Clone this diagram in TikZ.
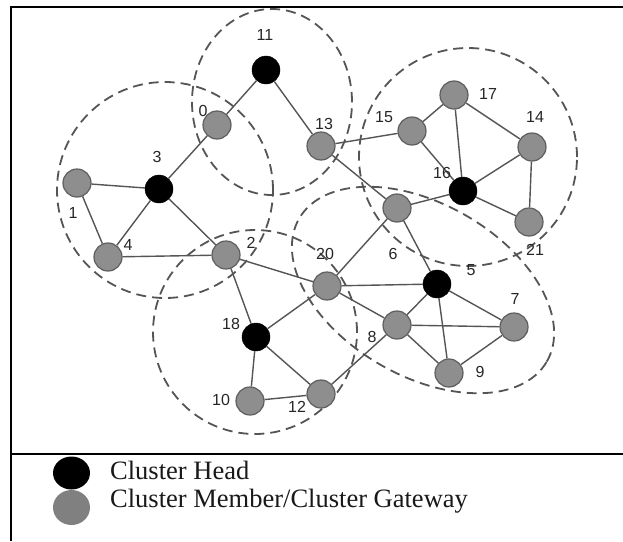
\documentclass[tikz,border=0pt]{standalone}
\usepackage{fontspec}
\setmainfont{Liberation Serif}
\newfontfamily\lblfont{Liberation Sans}
\usetikzlibrary{shapes.geometric}
\definecolor{edgegray}{HTML}{555555}
\definecolor{nodegray}{HTML}{8E8E8E}
\definecolor{nodeborder}{HTML}{5E5E5E}
\definecolor{dashgray}{HTML}{555555}
\definecolor{leggray}{HTML}{808080}
\begin{document}
\begin{tikzpicture}[x=1pt,y=-1pt,
  member/.style={circle,fill=nodegray,draw=nodeborder,line width=1.2pt,minimum size=28pt,inner sep=0pt},
  head/.style={circle,fill=black,draw=black,minimum size=28pt,inner sep=0pt},
  lbl/.style={font=\lblfont\fontsize{16}{16}\selectfont,text=black!85,inner sep=0pt},
  link/.style={draw=edgegray,line width=1.4pt},
  zone/.style={draw=dashgray,line width=1.8pt,dash pattern=on 10pt off 6pt},
  legtext/.style={font=\fontsize{26.5}{26.5}\selectfont,anchor=base west,inner sep=0pt,text=black!90}]
\useasboundingbox (0,0) rectangle (623,541);
\fill[white] (0,0) rectangle (623,541);

% frame
\draw[line width=1.6pt] (623,7) -- (11,7) -- (11,541);
\draw[line width=1.4pt] (11,454) -- (623,454);

% cluster zones
\coordinate (c3) at (165,190);
\coordinate (c11) at (272,102);
\coordinate (c16) at (468,157);
\coordinate (c18) at (255,332);
\coordinate (c5) at (423,290);
\draw[zone] (c3) circle [radius=108pt];
\draw[zone] (c11) ellipse [x radius=80pt, y radius=93pt];
\draw[zone] (c16) circle [radius=109pt];
\draw[zone] (c18) circle [radius=102pt];
\draw[zone,rotate around={-30:(c5)}] (c5) ellipse [x radius=143pt, y radius=86pt];

% node positions
\coordinate (p11) at (266,70);
\coordinate (p0) at (217,125);
\coordinate (p3) at (159,189);
\coordinate (p1) at (77,183);
\coordinate (p4) at (108,257);
\coordinate (p2) at (226,255);
\coordinate (p13) at (321,146);
\coordinate (p15) at (412,131);
\coordinate (p17) at (454,95);
\coordinate (p14) at (532,147);
\coordinate (p16) at (463,191);
\coordinate (p21) at (529,222);
\coordinate (p6) at (397,208);
\coordinate (p20) at (327,286);
\coordinate (p5) at (437,284);
\coordinate (p7) at (514,327);
\coordinate (p8) at (397,325);
\coordinate (p9) at (449,373);
\coordinate (p18) at (256,337);
\coordinate (p10) at (250,401);
\coordinate (p12) at (321,394);

\foreach \n in {0,1,4,2,13,15,17,14,21,6,20,7,8,9,10,12}
  \node[member] (n\n) at (p\n) {};
\foreach \n in {11,3,16,5,18}
  \node[head] (n\n) at (p\n) {};

% links
\foreach \a/\b in {11/0,0/3,11/13,3/1,3/4,3/2,1/4,4/2,2/18,2/20,20/8,18/20,18/10,18/12,10/12,12/8,
  20/5,20/6,13/6,6/5,6/16,13/15,15/17,15/16,17/16,17/14,14/16,14/21,16/21,5/8,5/7,5/9,8/7,8/9,7/9}
  \draw[link] (n\a) -- (n\b);

% labels
\node[lbl] (l11) at (265,35) {11};
\node[lbl] (l0) at (203,111) {0};
\node[lbl] (l3) at (157,157) {3};
\node[lbl] (l1) at (73,213) {1};
\node[lbl] (l4) at (128,245) {4};
\node[lbl] (l2) at (251,243) {2};
\node[lbl] (l13) at (324,124) {13};
\node[lbl] (l15) at (384,117) {15};
\node[lbl] (l17) at (488,94) {17};
\node[lbl] (l14) at (535,117) {14};
\node[lbl] (l16) at (442,173) {16};
\node[lbl] (l21) at (535,250) {21};
\node[lbl] (l6) at (393,254) {6};
\node[lbl] (l20) at (325,254) {20};
\node[lbl] (l5) at (471,270) {5};
\node[lbl] (l7) at (515,299) {7};
\node[lbl] (l8) at (372,337) {8};
\node[lbl] (l9) at (480,372) {9};
\node[lbl] (l18) at (231,324) {18};
\node[lbl] (l10) at (221,400) {10};
\node[lbl] (l12) at (297,407) {12};

% legend
\node[ellipse,fill=leggray,minimum width=37pt,minimum height=35pt,inner sep=0pt] (lgm) at (71.5,507.5) {};
\node[ellipse,fill=black,minimum width=37pt,minimum height=33pt,inner sep=0pt] (lgh) at (71.5,473) {};
\node[legtext] (th) at (110,479) {Cluster Head};
\node[legtext] (tm) at (110,507) {Cluster Member/Cluster Gateway};
\end{tikzpicture}
\end{document}
